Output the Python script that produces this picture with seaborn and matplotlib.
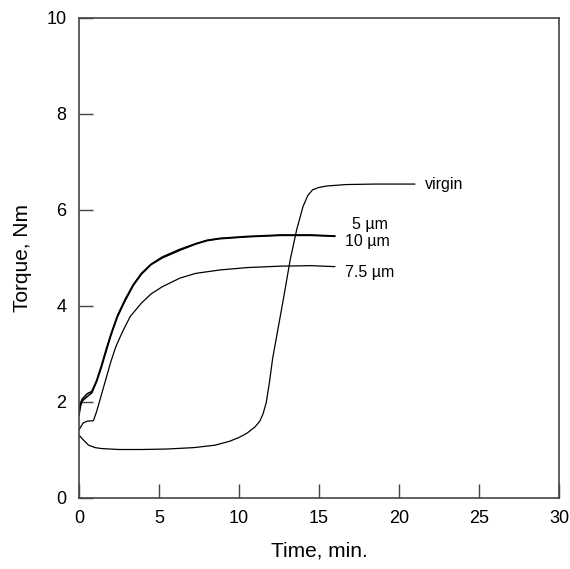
"""Torque vs. time curves for virgin and filled samples."""

import matplotlib

matplotlib.use("Agg")

import matplotlib.pyplot as plt
import seaborn as sns
import pandas as pd

# Values
time_virgin = [0.0, 0.3, 0.6, 1.0, 1.4, 2.5, 3.9, 5.5, 7.2, 8.5, 9.4, 10.0,
               10.5, 11.0, 11.3, 11.5, 11.7, 11.9, 12.1, 12.35, 12.8, 13.2,
               13.6, 14.0, 14.3, 14.6, 15.0, 15.5, 16.7, 18.5, 21.0]
torque_virgin = [1.31, 1.2, 1.1, 1.05, 1.03, 1.01, 1.01, 1.02, 1.05, 1.1,
                 1.18, 1.26, 1.35, 1.48, 1.6, 1.75, 1.98, 2.4, 2.9, 3.36,
                 4.19, 4.96, 5.58, 6.07, 6.3, 6.42, 6.47, 6.5, 6.53, 6.54,
                 6.54]

time_5um = [0.0, 0.1, 0.2, 0.5, 0.8, 1.1, 1.4, 1.7, 2.0, 2.4, 2.9, 3.4, 3.9,
            4.5, 5.2, 6.3, 7.3, 8.0, 8.8, 10.5, 12.6, 14.5, 16.0]
torque_5um = [1.8, 1.98, 2.06, 2.17, 2.22, 2.45, 2.76, 3.1, 3.42, 3.8, 4.15,
              4.45, 4.68, 4.87, 5.02, 5.18, 5.30, 5.37, 5.41, 5.45, 5.48,
              5.48, 5.46]

time_10um = [0.0, 0.1, 0.2, 0.5, 0.8, 1.1, 1.4, 1.7, 2.0, 2.4, 2.9, 3.4, 3.9,
             4.5, 5.2, 6.3, 7.3, 8.0, 8.8, 10.5, 12.6, 14.5, 16.0]
torque_10um = [1.72, 1.92, 2.02, 2.11, 2.19, 2.42, 2.72, 3.06, 3.39, 3.77,
               4.12, 4.43, 4.66, 4.86, 5.0, 5.16, 5.29, 5.36, 5.40, 5.44,
               5.47, 5.47, 5.45]

time_7_5um = [0.0, 0.25, 0.5, 0.9, 1.1, 1.4, 1.7, 2.0, 2.3, 2.7, 3.2, 3.9,
              4.5, 5.2, 6.3, 7.3, 8.8, 10.5, 12.6, 14.5, 16.0]
torque_7_5um = [1.42, 1.56, 1.6, 1.61, 1.8, 2.15, 2.5, 2.85, 3.15, 3.45,
                3.78, 4.06, 4.25, 4.40, 4.58, 4.68, 4.75, 4.80, 4.83, 4.84,
                4.82]

series = {
    "virgin": (time_virgin, torque_virgin),
    "5 µm": (time_5um, torque_5um),
    "10 µm": (time_10um, torque_10um),
    "7.5 µm": (time_7_5um, torque_7_5um),
}

# label anchor (left, centre) in data units
label_pos = {
    "virgin": (21.6, 6.54),
    "5 µm": (17.05, 5.69),
    "10 µm": (16.6, 5.35),
    "7.5 µm": (16.6, 4.69),
}

x_ticks = [0, 5, 10, 15, 20, 25, 30]
y_ticks = [0, 2, 4, 6, 8, 10]

sns.set_theme(style="white")
plt.rcParams["font.family"] = ["Liberation Sans", "DejaVu Sans"]
plt.rcParams["text.color"] = "black"
plt.rcParams["axes.labelcolor"] = "black"
plt.rcParams["xtick.color"] = "black"
plt.rcParams["ytick.color"] = "black"

fig = plt.figure(figsize=(5.7, 5.69), dpi=100)
ax = fig.add_axes([0.1386, 0.1248, 0.842, 0.8436])

frames = []
for name, (t, q) in series.items():
    frames.append(pd.DataFrame({"time": t, "torque": q, "sample": name}))
df = pd.concat(frames, ignore_index=True)

for name in series:
    sub = df[df["sample"] == name]
    sns.lineplot(
        data=sub, x="time", y="torque", ax=ax, color="black",
        lw=1.1 if name in ("5 µm", "10 µm") else 0.9,
        estimator=None, sort=False, legend=False,
    )
    lx, ly = label_pos[name]
    ax.text(lx, ly, name, fontsize=11.5, ha="left", va="center", color="black")

ax.set_xlim(0, 30)
ax.set_ylim(0, 10)
ax.set_xticks(x_ticks)
ax.set_yticks(y_ticks)
ax.tick_params(direction="in", length=10, width=1.0, color="#444444",
               labelcolor="black", labelsize=13, pad=9, top=False,
               right=False, bottom=True, left=True)
for sp in ax.spines.values():
    sp.set_color("#444444")
    sp.set_linewidth(1.2)

ax.set_xlabel("Time, min.", fontsize=15, labelpad=10)
ax.set_ylabel("Torque, Nm", fontsize=15, labelpad=10)

fig.savefig("out.png", dpi=100)
plt.close(fig)
